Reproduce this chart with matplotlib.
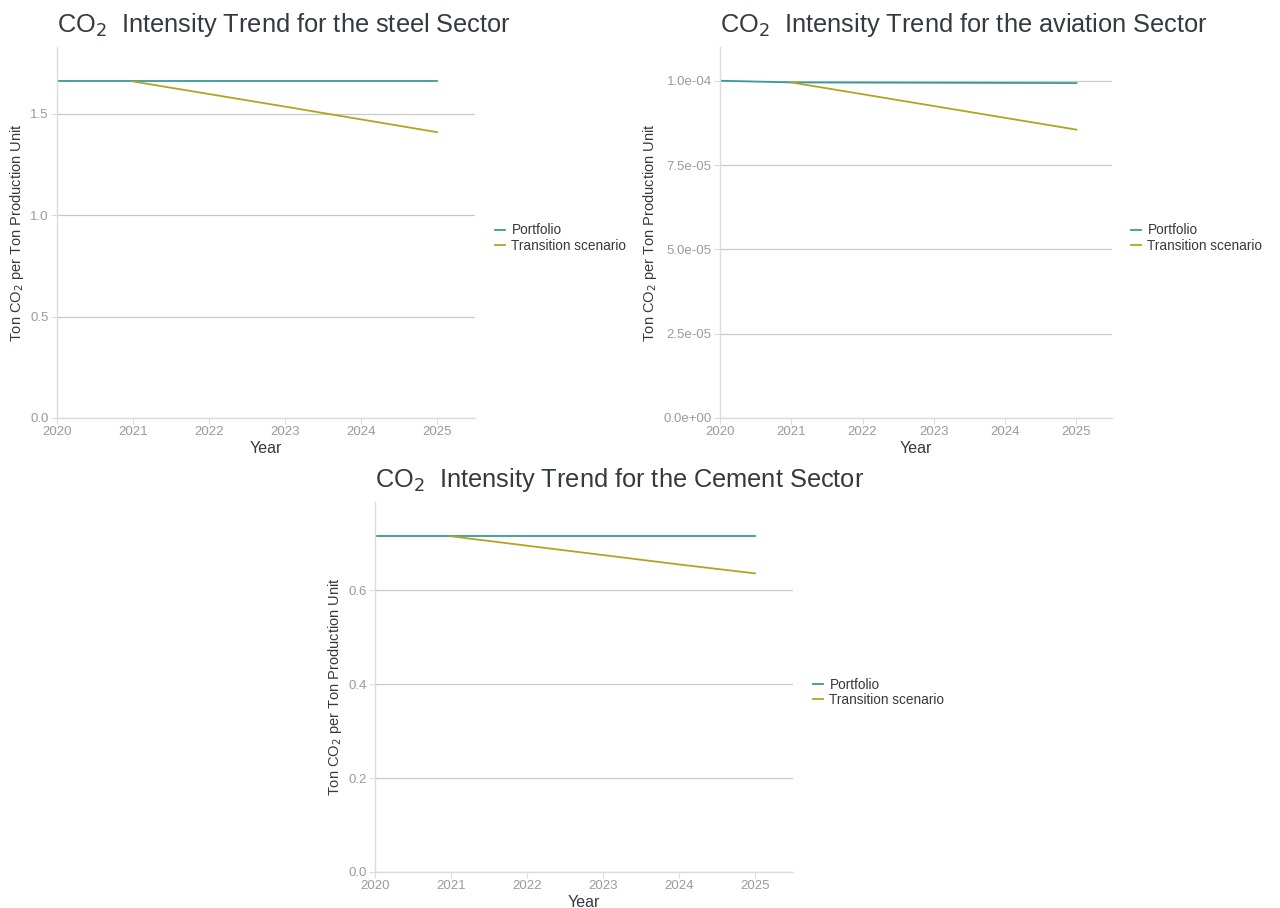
import matplotlib.pyplot as plt
from matplotlib.ticker import FuncFormatter

plt.rcParams['font.family'] = ['Liberation Sans', 'DejaVu Sans']

years = [2020, 2021, 2022, 2023, 2024, 2025]
scen_years = [2021, 2022, 2023, 2024, 2025]

steel_portfolio = [1.66, 1.66, 1.66, 1.66, 1.66, 1.66]
steel_scenario = [1.66, 1.598, 1.536, 1.473, 1.41]

aviation_portfolio = [1.0e-4, 0.995e-4, 0.9945e-4, 0.994e-4, 0.9935e-4, 0.993e-4]
aviation_scenario = [0.995e-4, 0.96e-4, 0.925e-4, 0.89e-4, 0.855e-4]

cement_portfolio = [0.715, 0.715, 0.715, 0.715, 0.715, 0.715]
cement_scenario = [0.715, 0.695, 0.675, 0.655, 0.636]

c_port = "#3a9a98"
c_scen = "#b3a420"
grid_c = "#c9c9c9"
axis_c = "#dcdcdc"
tick_c = "#9a9a9a"
text_c = "#343a40"

W, H = 1280, 908
fig = plt.figure(figsize=(12.8, 9.08), dpi=100)


def panel(left, right, top, bottom, sector, port, scen, ymax, yticks, fmt):
    ax = fig.add_axes([left / W, 1 - bottom / H, (right - left) / W, (bottom - top) / H])
    ax.plot(years, port, color=c_port, lw=1.3, label="Portfolio")
    ax.plot(scen_years, scen, color=c_scen, lw=1.3, label="Transition scenario")
    ax.set_xlim(2020, 2025.5)
    ax.set_ylim(0, ymax)
    ax.set_xticks(years)
    ax.set_yticks(yticks)
    ax.yaxis.set_major_formatter(FuncFormatter(fmt))
    ax.grid(axis="y", color=grid_c, lw=0.9)
    ax.set_axisbelow(True)
    for s in ["top", "right"]:
        ax.spines[s].set_visible(False)
    for s in ["left", "bottom"]:
        ax.spines[s].set_color(axis_c)
        ax.spines[s].set_linewidth(1.0)
    ax.tick_params(colors=axis_c, labelcolor=tick_c, labelsize=9.5, length=4, width=0.8, pad=2)
    ax.set_xlabel("Year", fontsize=11.5, color=text_c, labelpad=2)
    ax.set_ylabel("Ton CO$_2$ per Ton Production Unit", fontsize=10.5, color=text_c, labelpad=3)
    ax.set_title("CO$_2$  Intensity Trend for the " + sector + " Sector", loc="left",
                 fontsize=18.3, color=text_c, pad=11)
    leg = ax.legend(loc="center left", bbox_to_anchor=(1.035, 0.485), frameon=False,
                    fontsize=9.8, handlelength=0.7, handletextpad=0.5, labelspacing=0.1,
                    borderaxespad=0)
    for t in leg.get_texts():
        t.set_color(text_c)
    return ax


panel(57, 475, 47, 418, "steel", steel_portfolio, steel_scenario, 1.83,
      [0.0, 0.5, 1.0, 1.5], lambda v, p: "%.1f" % v)
panel(720, 1112, 47, 418, "aviation", aviation_portfolio, aviation_scenario, 1.1e-4,
      [0, 2.5e-5, 5e-5, 7.5e-5, 1e-4], lambda v, p: "%.1e" % v)
panel(375, 793, 502, 872, "Cement", cement_portfolio, cement_scenario, 0.788,
      [0.0, 0.2, 0.4, 0.6], lambda v, p: "%.1f" % v)

fig.savefig("out.png", dpi=100)
